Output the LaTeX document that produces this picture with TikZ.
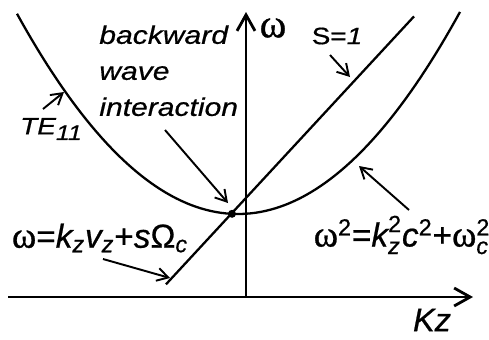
\documentclass[tikz,border=0pt]{standalone}
\usepackage{amsmath}
\usepackage{fontspec}
\setmainfont{Liberation Sans}[FakeBold=0.6]
\newfontfamily\greekfont{Liberation Serif}[FakeBold=0.8]
\newfontfamily\widefont{Liberation Sans}[FakeStretch=1.18,FakeBold=0.6]
\usetikzlibrary{arrows.meta}
\newcommand{\om}{\text{\greekfont\fontsize{21}{21}\selectfont ω}}
\newcommand{\itx}[1]{\text{\itshape #1}}

\begin{document}
\begin{tikzpicture}[
  x=0.2mm, y=0.2mm,
  curve/.style={line width=1.3pt},
  axis/.style={line width=1.6pt, -{Straight Barb[length=3.2mm,width=3.6mm]}},
  pointer/.style={line width=1.1pt, -{Straight Barb[length=2.2mm,width=2.6mm]}},
  lbl/.style={font=\widefont\itshape\fontsize{14.5}{20.5}\selectfont, inner sep=0pt},
  eqn/.style={font=\fontsize{19}{20}\selectfont, inner sep=0pt},
  dot/.style={circle, fill, inner sep=0pt, minimum size=1.6mm}
]
\useasboundingbox (0,0) rectangle (489,339);

\coordinate (xstart) at (8,42);
\coordinate (xend) at (473,42);
\coordinate (origin) at (246,42);
\coordinate (yend) at (246,327);
\draw[axis] (xstart) -- (xend);
\draw[axis] (origin) -- (yend);

\draw[curve] plot[domain=17:460, samples=90] (\x, {125+0.41*((\x-238)/10)^2});
\coordinate (beamlow) at (166,54.7);
\coordinate (beamtop) at (414,322.6);
\draw[curve] (beamlow) -- (beamtop);
\node[dot] (cross) at (232,125.2) {};

\node[font=\fontsize{23}{23}\selectfont\greekfont, inner sep=0pt] (omega) at (273,311) {ω};
\node[eqn, font=\itshape\fontsize{18.5}{18}\selectfont] (kz) at (432,19) {Kz};

\node[lbl, font=\widefont\fontsize{13.5}{15}\selectfont] (sone) at (337,303) {S=\textit{1}};
\coordinate (sonetail) at (330,284);
\coordinate (sonehead) at (350,262);
\draw[pointer] (sonetail) -- (sonehead);

\node[lbl, font=\widefont\itshape\fontsize{13.5}{15}\selectfont] (te) at (51,210)
  {TE\raisebox{-0.45ex}{\fontsize{12}{12}\selectfont 11}};
\coordinate (tetail) at (43,230);
\coordinate (tehead) at (64,247);
\draw[pointer] (tetail) -- (tehead);

\node[lbl, align=left, anchor=north west] (bwi) at (99,314) {backward\\wave\\interaction};
\coordinate (bwitail) at (165,209);
\coordinate (bwihead) at (228,136);
\draw[pointer] (bwitail) -- (bwihead);

\node[eqn] (beam) at (100,101) {$\om\text{=}\itx{k}_{\itx{z}}\itx{v}_{\itx{z}}\text{+}\itx{s}\text{Ω}_{\itx{c}}$};
\coordinate (beamtail) at (103,80);
\coordinate (beamhead) at (170,61);
\draw[pointer] (beamtail) -- (beamhead);

\node[eqn] (disp) at (402,104) {$\om^{\text{2}}\text{=}\itx{k}^{\text{2}}_{\itx{z}}\itx{c}^{\text{2}}\text{+}\om^{\text{2}}_{\itx{c}}$};
\coordinate (disptail) at (409,129);
\coordinate (disphead) at (359,173);
\draw[pointer] (disptail) -- (disphead);
\end{tikzpicture}
\end{document}
